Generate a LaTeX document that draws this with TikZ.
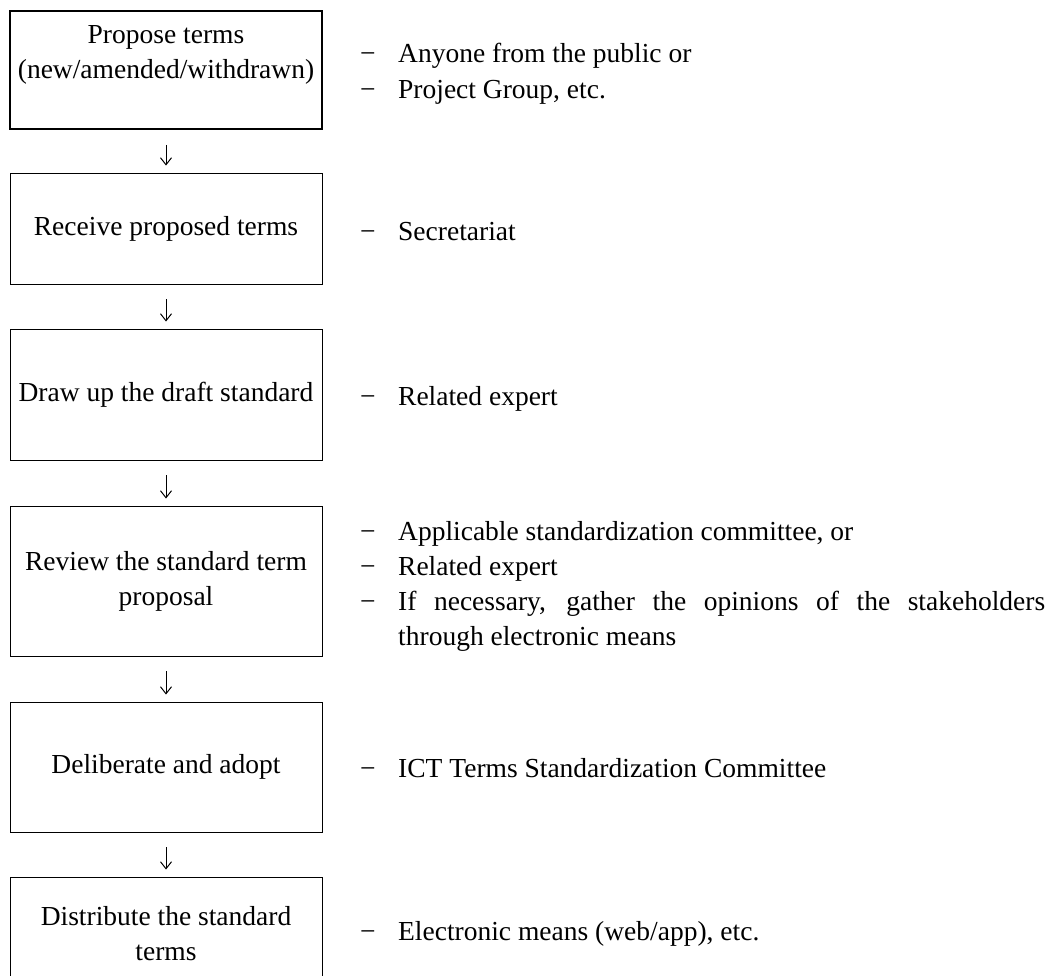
\documentclass[tikz,border=0pt]{standalone}
\usepackage{fontspec}
\setmainfont{Liberation Serif}
\usepackage{array}
\usetikzlibrary{arrows.meta}
\newcommand{\whodash}{−}
\tikzset{
	stepbox/.style={draw, line width=0.9bp, minimum width=312bp, inner sep=0bp, align=center},
	flow/.style={line width=1bp, -{Straight Barb[length=7bp,width=11bp]}, shorten <=15bp, shorten >=7bp},
	who/.style={anchor=base west, inner sep=0bp, align=left}
}

\begin{document}
\begin{tikzpicture}[x=1bp, y=-1bp, font=\fontsize{27.5bp}{35bp}\selectfont]
			%%%%% START %%%%%
			
			\useasboundingbox (0, 0) rectangle (1053, 976);
			
			\node[stepbox, line width=1.8bp, anchor=north, minimum height=118bp, inner ysep=15bp, text height=53bp, text depth=35bp] (propose) at (166, 10) {Propose terms\\(new/amended/withdrawn)};
			\node[stepbox, minimum height=111bp] (receive) at (166, 228.5) {Receive proposed terms};
			\node[stepbox, minimum height=131bp] (draft) at (166, 394.5) {Draw up the draft standard};
			\node[stepbox, minimum height=150bp] (review) at (166, 581) {Review the standard term\\proposal};
			\node[stepbox, minimum height=130bp] (adopt) at (166, 767) {Deliberate and adopt};
			\node[stepbox, minimum height=114bp] (distribute) at (166, 934) {Distribute the standard\\terms};
			
			\draw[flow] (propose) -- (receive);
			\draw[flow] (receive) -- (draft);
			\draw[flow] (draft) -- (review);
			\draw[flow] (review) -- (adopt);
			\draw[flow] (adopt) -- (distribute);
			
			\node[who] (public) at (360, 62) {\begin{tabular}[t]{@{}p{38bp}@{}l@{}}\whodash & Anyone from the public or\\[1.5bp] \whodash & Project Group, etc.\end{tabular}};
			\node[who] (secretariat) at (360, 240) {\begin{tabular}[t]{@{}p{38bp}@{}l@{}}\whodash & Secretariat\end{tabular}};
			\node[who] (expert) at (360, 405) {\begin{tabular}[t]{@{}p{38bp}@{}l@{}}\whodash & Related expert\end{tabular}};
			\node[who] (committee) at (360, 540) {\begin{tabular}[t]{@{}p{38bp}@{}>{\tolerance=9999}p{647bp}@{}}\whodash & Applicable standardization committee, or\\ \whodash & Related expert\\ \whodash & If necessary, gather the opinions of the stakeholders\linebreak through electronic means\end{tabular}};
			\node[who] (ict) at (360, 777) {\begin{tabular}[t]{@{}p{38bp}@{}l@{}}\whodash & ICT Terms Standardization Committee\end{tabular}};
			\node[who] (web) at (360, 940) {\begin{tabular}[t]{@{}p{38bp}@{}l@{}}\whodash & Electronic means (web/app), etc.\end{tabular}};
			
			%%%%% END %%%%%
\end{tikzpicture}
\end{document}
